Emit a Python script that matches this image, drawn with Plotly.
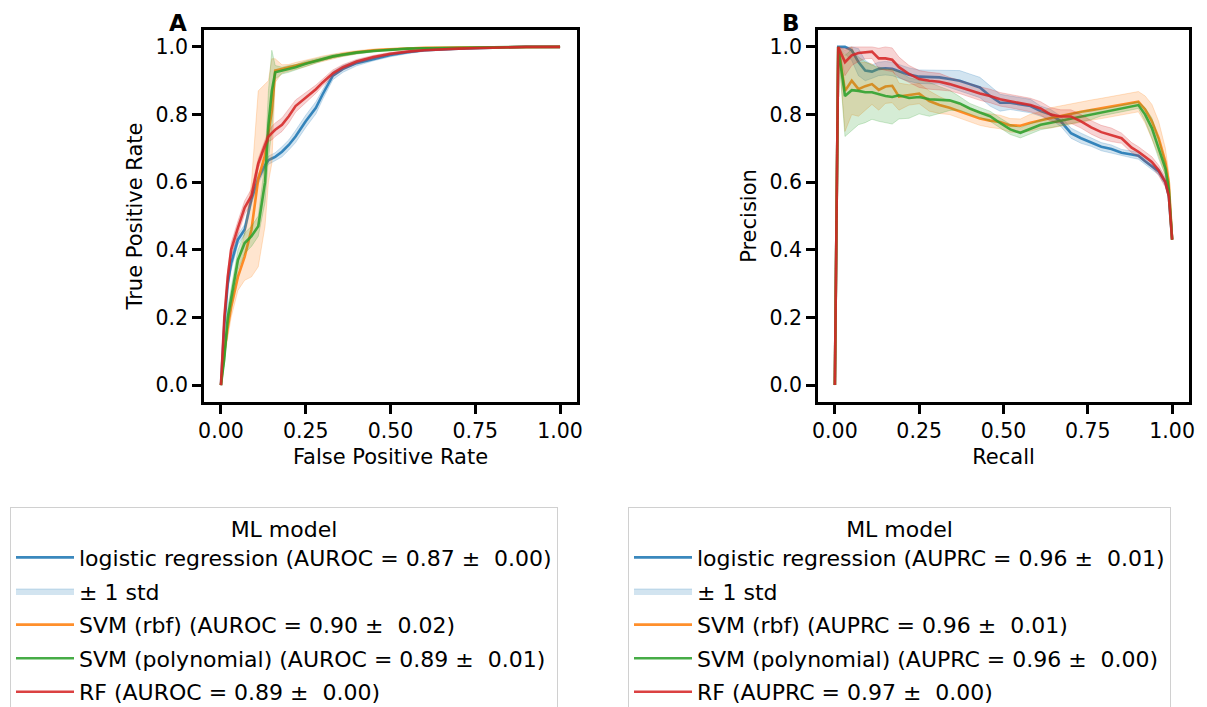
import plotly.graph_objects as go

# ---------------- data ----------------
model_names = ["logistic regression", "SVM (rbf)", "SVM (polynomial)", "RF"]
colors = ["31,119,180", "255,127,14", "44,160,44", "214,39,40"]
auroc_mean = [0.87, 0.90, 0.89, 0.89]
auroc_std = [0.00, 0.02, 0.01, 0.00]
auprc_mean = [0.96, 0.96, 0.96, 0.97]
auprc_std = [0.01, 0.01, 0.00, 0.00]

fpr_grid = [0, .01, .02, .03, .05, .07, .09, .11, .13, .14, .15, .16, .18, .20, .22,
            .25, .28, .30, .33, .36, .40, .45, .50, .55, .60, .70, .80, .90, 1.0]
tpr_lr = [0, .18, .30, .36, .43, .46, .55, .61, .65, .665, .67, .675, .69, .71, .735,
          .78, .82, .86, .915, .935, .952, .965, .976, .984, .99, .995, .998, 1.0, 1.0]
tpr_lr_std = [0, .02, .02, .02, .015, .015, .015, .015, .012, .012, .012, .012, .015, .015, .018,
              .018, .018, .015, .012, .01, .008, .006, .005, .004, .003, .002, .001, 0, 0]
tpr_rbf = [0, .10, .17, .23, .32, .38, .46, .61, .68, .75, .81, .93, .935, .938, .944,
           .952, .96, .965, .972, .978, .984, .99, .993, .995, .997, .998, .999, 1.0, 1.0]
tpr_rbf_std = [0, .02, .03, .03, .04, .07, .14, .26, .21, .15, .155, .035, .012, .01, .01,
               .01, .008, .008, .007, .006, .005, .004, .003, .002, .002, .001, .001, 0, 0]
tpr_poly = [0, .08, .20, .26, .37, .42, .44, .47, .60, .77, .87, .925, .93, .935, .94,
            .95, .958, .965, .972, .977, .983, .988, .992, .995, .996, .998, .999, 1.0, 1.0]
tpr_poly_std = [0, .02, .03, .03, .03, .03, .03, .03, .06, .10, .12, .02, .01, .01, .008,
                .008, .007, .006, .005, .004, .004, .003, .002, .002, .002, .001, .001, 0, 0]
tpr_rf = [0, .20, .32, .40, .465, .525, .56, .655, .71, .735, .745, .755, .77, .795, .825,
          .85, .875, .895, .922, .94, .957, .97, .98, .986, .99, .995, .998, 1.0, 1.0]
tpr_rf_std = [0, .02, .02, .02, .02, .02, .02, .015, .015, .015, .02, .02, .02, .02, .018,
              .015, .012, .01, .01, .008, .006, .005, .004, .003, .002, .002, .001, 0, 0]

recall_grid = [0, .01, .03, .05, .07, .09, .11, .13, .15, .17, .19, .22, .25, .28, .31, .34,
               .37, .40, .43, .46, .49, .52, .55, .58, .61, .64, .67, .70, .73, .76, .79, .82,
               .85, .88, .90, .92, .94, .96, .98, .99, 1.0]
prec_lr = [0, 1.0, 1.0, .99, .955, .93, .927, .935, .937, .935, .928, .918, .912, .912, .91, .905,
           .90, .89, .88, .855, .835, .835, .83, .825, .81, .80, .78, .745, .73, .718, .705, .698,
           .687, .682, .678, .662, .648, .632, .60, .56, .43]
prec_lr_std = [0, 0, .02, .03, .04, .03, .02, .02, .02, .02, .02, .02, .02, .02, .02, .025,
               .03, .03, .03, .03, .025, .02, .02, .02, .015, .015, .015, .015, .015, .012, .012, .012,
               .01, .01, .01, .01, .01, .01, .01, .01, 0]
prec_rbf = [0, 1.0, .87, .90, .875, .884, .89, .873, .883, .885, .853, .858, .862, .84, .828, .82,
            .81, .798, .788, .782, .778, .768, .767, .776, .784, .79, .796, .803, .808, .813, .818, .823,
            .828, .834, .838, .815, .78, .73, .66, .60, .43]
prec_rbf_std = [0, 0, .12, .10, .08, .07, .06, .06, .05, .05, .04, .03, .03, .03, .025, .02,
                .02, .02, .02, .02, .02, .02, .02, .025, .025, .03, .03, .03, .03, .03, .03, .03,
                .03, .03, .03, .04, .05, .05, .04, .03, 0]
prec_poly = [0, 1.0, .855, .872, .87, .866, .866, .86, .855, .852, .857, .849, .852, .845, .843, .842,
             .833, .818, .806, .795, .775, .756, .746, .758, .77, .776, .782, .788, .795, .80, .806, .812,
             .818, .824, .828, .80, .76, .70, .64, .58, .43]
prec_poly_std = [0, 0, .12, .12, .10, .09, .08, .08, .08, .08, .07, .06, .05, .05, .04, .03,
                 .02, .015, .015, .015, .015, .015, .015, .015, .015, .015, .015, .015, .015, .015, .01, .01,
                 .01, .01, .01, .02, .03, .03, .02, .02, 0]
prec_rf = [0, 1.0, .955, .975, .982, .985, .986, .966, .966, .962, .94, .92, .905, .90, .897, .89,
           .882, .872, .862, .855, .845, .84, .833, .828, .818, .80, .794, .794, .78, .762, .748, .74,
           .73, .702, .69, .675, .66, .635, .60, .56, .43]
prec_rf_std = [0, 0, .04, .03, .025, .02, .02, .03, .035, .035, .03, .025, .025, .025, .025, .02,
               .02, .02, .02, .02, .02, .02, .02, .02, .02, .02, .02, .02, .02, .02, .02, .02,
               .015, .015, .015, .015, .015, .015, .015, .01, 0]

tpr_means = [tpr_lr, tpr_rbf, tpr_poly, tpr_rf]
tpr_stds = [tpr_lr_std, tpr_rbf_std, tpr_poly_std, tpr_rf_std]
prec_means = [prec_lr, prec_rbf, prec_poly, prec_rf]
prec_stds = [prec_lr_std, prec_rbf_std, prec_poly_std, prec_rf_std]

# ---------------- figure ----------------
OFF = 8  # page body margin
W, H = 1207 - OFF, 707 - OFF
FONT = "DejaVu Sans"
fig = go.Figure()


def px(v):
    return (v - OFF) / W


def py(v):
    return 1 - (v - OFF) / H


def add_curves(x, means, stds, xa, ya, leg, metric, mvals, svals):
    for i in range(4):
        c = colors[i]
        m, s = means[i], stds[i]
        lo = [max(a - b, 0) for a, b in zip(m, s)]
        hi = [min(a + b, 1) for a, b in zip(m, s)]
        fig.add_trace(go.Scatter(
            x=x, y=m, mode="lines", xaxis=xa, yaxis=ya, legend=leg,
            legendgroup=f"{leg}_m{i}",
            line=dict(color=f"rgba({c},0.88)", width=2.6),
            name=f"{model_names[i]} ({metric} = {mvals[i]:.2f} \u00b1 \u00a0{svals[i]:.2f})",
            showlegend=True))
        fig.add_trace(go.Scatter(
            x=x, y=lo, mode="lines", xaxis=xa, yaxis=ya, legend=leg,
            legendgroup=f"{leg}_m{i}",
            line=dict(color=f"rgba({c},0.22)", width=1), showlegend=False,
            hoverinfo="skip"))
        fig.add_trace(go.Scatter(
            x=x, y=hi, mode="lines", xaxis=xa, yaxis=ya, legend=leg,
            legendgroup=f"{leg}_s{i}" if i == 0 else f"{leg}_m{i}",
            line=dict(color=f"rgba({c},0.22)", width=1),
            fill="tonexty", fillcolor=f"rgba({c},0.2)",
            name="\u00b1 1 std", showlegend=(i == 0), hoverinfo="skip"))


add_curves(fpr_grid, tpr_means, tpr_stds, "x", "y", "legend", "AUROC", auroc_mean, auroc_std)
add_curves(recall_grid, prec_means, prec_stds, "x2", "y2", "legend2", "AUPRC", auprc_mean, auprc_std)

tickvals_x = [0, 0.25, 0.5, 0.75, 1.0]
ticktext_x = ["0.00", "0.25", "0.50", "0.75", "1.00"]
tickvals_y = [0, 0.2, 0.4, 0.6, 0.8, 1.0]
ticktext_y = ["0.0", "0.2", "0.4", "0.6", "0.8", "1.0"]

axis_common = dict(range=[-0.05, 1.05], showgrid=False, zeroline=False, showline=True,
                   linecolor="black", linewidth=2.5, mirror=True, ticks="outside",
                   ticklen=9, tickwidth=2.5, tickcolor="black", automargin=False,
                   tickfont=dict(family=FONT, size=20.5, color="black"))

legend_common = dict(xanchor="left", yanchor="top", bordercolor="#d0d0d0", borderwidth=1,
                     bgcolor="white", font=dict(family=FONT, size=22, color="black"),
                     itemwidth=58, traceorder="grouped", tracegroupgap=2,
                     title=dict(text="ML model", side="top center", font=dict(family=FONT, size=22)))

fig.update_layout(
    width=W, height=H,
    margin=dict(l=0, r=0, t=0, b=0, autoexpand=False),
    paper_bgcolor="white", plot_bgcolor="white",
    font=dict(family=FONT, color="black"),
    xaxis=dict(domain=[px(204), px(577)], anchor="y", tickvals=tickvals_x, ticktext=ticktext_x,
               title=dict(text="False Positive Rate", font=dict(size=21), standoff=7), **axis_common),
    yaxis=dict(domain=[py(402), py(30)], anchor="x", tickvals=tickvals_y, ticktext=ticktext_y,
               title=dict(text="True Positive Rate", font=dict(size=21), standoff=8), **axis_common),
    xaxis2=dict(domain=[px(818), px(1189)], anchor="y2", tickvals=tickvals_x, ticktext=ticktext_x,
                title=dict(text="Recall", font=dict(size=21), standoff=7), **axis_common),
    yaxis2=dict(domain=[py(402), py(30)], anchor="x2", tickvals=tickvals_y, ticktext=ticktext_y,
                title=dict(text="Precision", font=dict(size=21), standoff=8), **axis_common),
    legend=dict(x=px(10), y=py(507), **legend_common),
    legend2=dict(x=px(628), y=py(507), **legend_common),
    annotations=[
        dict(text="<b>A</b>", x=px(178), y=py(8), xref="paper", yref="paper",
             xanchor="center", yanchor="top",
             showarrow=False, font=dict(family=FONT, size=23, color="black")),
        dict(text="<b>B</b>", x=px(791), y=py(8), xref="paper", yref="paper",
             xanchor="center", yanchor="top",
             showarrow=False, font=dict(family=FONT, size=23, color="black")),
    ],
)

fig.write_html("out.html")
